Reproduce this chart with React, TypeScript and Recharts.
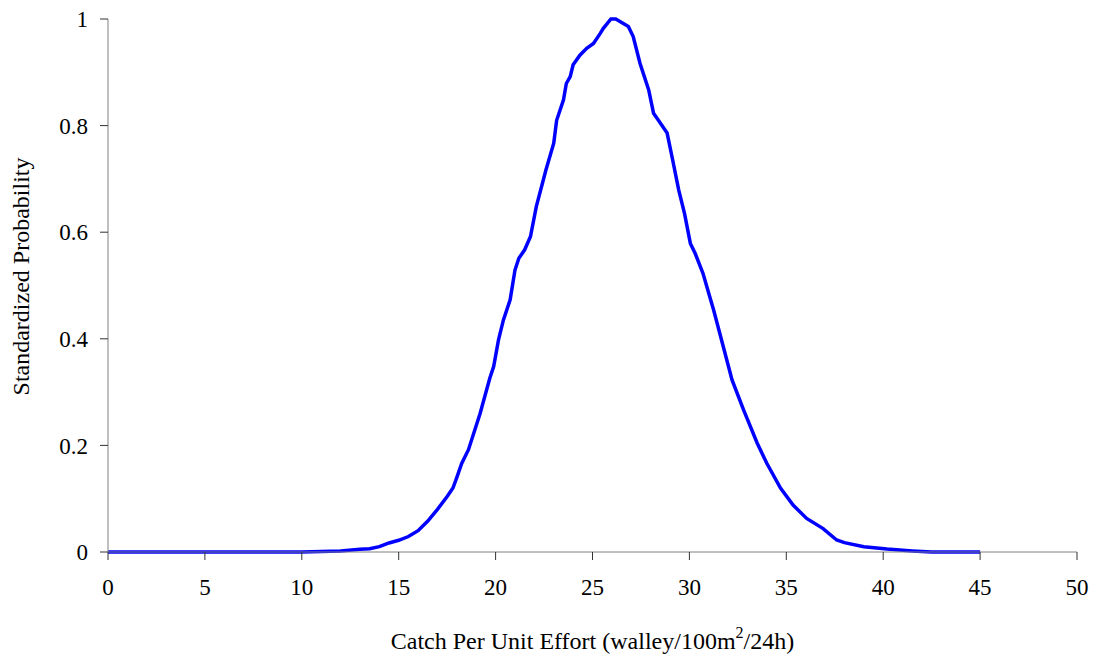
import React from "react";
import { LineChart, Line, XAxis, YAxis } from "recharts";

// CPUE values (walley/100m²/24h)
const cpue = [
  0, 5, 10, 12, 13, 13.5, 14, 14.5, 15, 15.5, 16, 16.5, 17, 17.5, 17.8, 18, 18.25, 18.6,
  19.2, 19.7, 19.9, 20.15, 20.4, 20.75, 21, 21.2, 21.5, 21.8, 22.1, 22.6, 23, 23.15, 23.5,
  23.65, 23.85, 24, 24.35, 24.7, 25.05, 25.4, 25.55, 25.95, 26.2, 26.85, 27.1, 27.45, 27.9,
  28.15, 28.4, 28.85, 29.1, 29.45, 29.75, 30.05, 30.3, 30.7, 31.05, 31.25, 31.75, 32.2,
  32.8, 33.5, 34, 34.7, 35.35, 36.05, 36.9, 37.6, 38, 39, 40.2, 41.5, 42.5, 45,
];

const probability = [
  0, 0, 0, 0.002, 0.005, 0.006, 0.01, 0.017, 0.022, 0.029, 0.04, 0.058, 0.08, 0.104, 0.12,
  0.14, 0.166, 0.192, 0.26, 0.326, 0.348, 0.398, 0.435, 0.473, 0.529, 0.551, 0.567, 0.592,
  0.648, 0.717, 0.767, 0.81, 0.848, 0.879, 0.892, 0.914, 0.932, 0.945, 0.954, 0.973, 0.982,
  1.0, 1.0, 0.986, 0.967, 0.917, 0.867, 0.823, 0.81, 0.786, 0.742, 0.679, 0.635, 0.579,
  0.56, 0.523, 0.479, 0.454, 0.385, 0.323, 0.266, 0.204, 0.166, 0.12, 0.088, 0.063, 0.044,
  0.0225, 0.0175, 0.01, 0.0056, 0.002, 0, 0,
];

const xTicks = [0, 5, 10, 15, 20, 25, 30, 35, 40, 45, 50];
const yTicks = [0, 0.2, 0.4, 0.6, 0.8, 1];

const data = cpue.map((x, i) => ({ x, p: probability[i] }));

const font = "'Liberation Serif', 'Times New Roman', serif";
const tickStyle = { fill: "#000", fontSize: 23, fontFamily: font };

const XTitle = (props: any) => {
  const vb = props.viewBox;
  const cx = vb.x + vb.width / 2;
  return (
    <text x={cx} y={649} textAnchor="middle" fontSize={24} fontFamily={font} fill="#000">
      Catch Per Unit Effort (walley/100m
      <tspan dy={-11} fontSize={16}>2</tspan>
      <tspan dy={11}>/24h)</tspan>
    </text>
  );
};

export default function App() {
  return (
    <div style={{ position: "absolute", left: 0, top: 0, background: "#fff" }}>
      <LineChart
        width={1096}
        height={658}
        data={data}
        margin={{ top: 19, right: 19, left: 0, bottom: 0 }}
      >
        <XAxis
          dataKey="x"
          type="number"
          domain={[0, 50]}
          ticks={xTicks}
          tick={tickStyle}
          tickSize={8}
          tickMargin={19}
          height={106}
          stroke="#808080"
          tickLine={{ stroke: "#333" }}
          label={<XTitle />}
        />
        <YAxis
          type="number"
          domain={[0, 1]}
          ticks={yTicks}
          tick={tickStyle}
          tickSize={8}
          tickMargin={12}
          width={108}
          stroke="#808080"
          tickLine={{ stroke: "#333" }}
          label={{
            value: "Standardized Probability",
            angle: -90,
            position: "insideLeft",
            offset: 0,
            dx: 20,
            dy: -9,
            style: { textAnchor: "middle", fontSize: 24, fontFamily: font, fill: "#000" },
          }}
        />
        <Line
          type="linear"
          dataKey="p"
          stroke="#0000FF"
          strokeWidth={3.5}
          dot={false}
          isAnimationActive={false}
        />
      </LineChart>
    </div>
  );
}
